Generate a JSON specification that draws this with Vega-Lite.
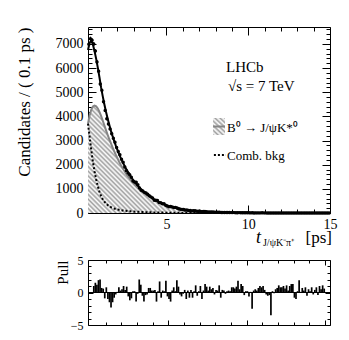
{
"$schema": "https://vega.github.io/schema/vega-lite/v6.json",
"autosize": {"type": "none"},
"padding": {"left": 88, "top": 27, "right": 261, "bottom": 313},
"background": "white",
"config": {
 "view": {"stroke": "black", "strokeWidth": 1},
 "axis": {"grid": false, "domain": false, "tickColor": "black", "tickWidth": 1, "labelColor": "black", "labelFont": "Liberation Serif", "titleFont": "Liberation Serif", "titleColor": "black", "titleFontWeight": "normal", "labelFlush": false, "labelOverlap": false, "labelBound": false, "format": "d"},
 "text": {"font": "Liberation Serif", "color": "black"}
},
"datasets": {
 "bins": [
{"t":0.25,"n":6983,"e":84,"p":1.0},{"t":0.35,"n":7216,"e":85,"p":1.5},{"t":0.45,"n":7156,"e":84,"p":1.2},{"t":0.55,"n":6997,"e":83,"p":1.9},{"t":0.65,"n":6702,"e":82,"p":2.0},{"t":0.75,"n":6255,"e":79,"p":0.7},{"t":0.85,"n":5866,"e":77,"p":0.6},{"t":0.95,"n":5344,"e":73,"p":-0.9},{"t":1.05,"n":5077,"e":71,"p":0.8},{"t":1.15,"n":4602,"e":68,"p":-1.0},
{"t":1.25,"n":4246,"e":65,"p":-1.5},{"t":1.35,"n":3904,"e":62,"p":-2.3},{"t":1.45,"n":3688,"e":61,"p":-1.5},{"t":1.55,"n":3482,"e":59,"p":-0.8},{"t":1.65,"n":3283,"e":57,"p":-0.3},{"t":1.75,"n":3094,"e":56,"p":0.1},{"t":1.85,"n":2931,"e":54,"p":0.8},{"t":1.95,"n":2716,"e":52,"p":0.3},{"t":2.05,"n":2550,"e":50,"p":0.5},{"t":2.15,"n":2409,"e":49,"p":1.0},
{"t":2.25,"n":2224,"e":47,"p":0.4},{"t":2.35,"n":2103,"e":46,"p":0.9},{"t":2.45,"n":1904,"e":44,"p":-0.6},{"t":2.55,"n":1754,"e":42,"p":-1.2},{"t":2.65,"n":1651,"e":41,"p":-0.9},{"t":2.75,"n":1586,"e":40,"p":0.2},{"t":2.85,"n":1483,"e":39,"p":0.2},{"t":2.95,"n":1327,"e":36,"p":-1.4},{"t":3.05,"n":1283,"e":36,"p":-0.2},{"t":3.15,"n":1275,"e":36,"p":2.0},
{"t":3.25,"n":1168,"e":34,"p":1.2},{"t":3.35,"n":1039,"e":32,"p":-0.5},{"t":3.45,"n":943,"e":31,"p":-1.4},{"t":3.55,"n":911,"e":30,"p":-0.4},{"t":3.65,"n":854,"e":29,"p":-0.3},{"t":3.75,"n":827,"e":29,"p":0.7},{"t":3.85,"n":774,"e":28,"p":0.7},{"t":3.95,"n":713,"e":27,"p":0.3},{"t":4.05,"n":668,"e":26,"p":0.3},{"t":4.15,"n":622,"e":25,"p":0.4},
{"t":4.25,"n":531,"e":23,"p":-1.4},{"t":4.35,"n":527,"e":23,"p":0.2},{"t":4.45,"n":520,"e":23,"p":1.7},{"t":4.55,"n":430,"e":21,"p":-0.8},{"t":4.65,"n":420,"e":20,"p":0.3},{"t":4.75,"n":387,"e":20,"p":0.2},{"t":4.85,"n":388,"e":20,"p":1.8},{"t":4.95,"n":317,"e":18,"p":-0.6},{"t":5.05,"n":287,"e":17,"p":-1.0},{"t":5.15,"n":258,"e":16,"p":-1.4},
{"t":5.25,"n":265,"e":16,"p":0.3},{"t":5.35,"n":253,"e":16,"p":0.8},{"t":5.45,"n":226,"e":15,"p":0.2},{"t":5.55,"n":233,"e":15,"p":1.9},{"t":5.65,"n":203,"e":14,"p":0.9},{"t":5.75,"n":173,"e":13,"p":-0.3},{"t":5.85,"n":156,"e":12,"p":-0.6},{"t":5.95,"n":150,"e":12,"p":-0.2},{"t":6.05,"n":145,"e":12,"p":0.4},{"t":6.15,"n":119,"e":11,"p":-1.0},
{"t":6.25,"n":123,"e":11,"p":0.3},{"t":6.35,"n":103,"e":10,"p":-0.8},{"t":6.45,"n":107,"e":10,"p":0.4},{"t":6.55,"n":87,"e":9,"p":-0.8},{"t":6.65,"n":90,"e":9,"p":0.2},{"t":6.75,"n":92,"e":10,"p":1.1},{"t":6.85,"n":72,"e":8,"p":-0.5},{"t":6.95,"n":72,"e":8,"p":0.2},{"t":7.05,"n":73,"e":9,"p":1.0},{"t":7.15,"n":52,"e":7,"p":-1.0},
{"t":7.25,"n":58,"e":8,"p":0.3},{"t":7.35,"n":61,"e":8,"p":1.3},{"t":7.45,"n":54,"e":7,"p":0.9},{"t":7.55,"n":46,"e":7,"p":0.3},{"t":7.65,"n":47,"e":7,"p":0.9},{"t":7.75,"n":41,"e":6,"p":0.5},{"t":7.85,"n":39,"e":6,"p":0.7},{"t":7.95,"n":31,"e":6,"p":-0.3},{"t":8.05,"n":32,"e":6,"p":0.4},{"t":8.15,"n":30,"e":5,"p":0.3},
{"t":8.25,"n":32,"e":6,"p":1.1},{"t":8.35,"n":20,"e":4,"p":-0.8},{"t":8.45,"n":24,"e":5,"p":0.4},{"t":8.55,"n":22,"e":5,"p":0.3},{"t":8.65,"n":18,"e":4,"p":-0.2},{"t":8.75,"n":19,"e":4,"p":0.2},{"t":8.85,"n":17,"e":4,"p":0.3},{"t":8.95,"n":16,"e":4,"p":0.2},{"t":9.05,"n":17,"e":4,"p":0.8},{"t":9.15,"n":16,"e":4,"p":0.8},
{"t":9.25,"n":14,"e":4,"p":0.6},{"t":9.35,"n":14,"e":4,"p":0.9},{"t":9.45,"n":16,"e":4,"p":1.8},{"t":9.55,"n":11,"e":3,"p":0.5},{"t":9.65,"n":13,"e":4,"p":1.3},{"t":9.75,"n":11,"e":3,"p":1.0},{"t":9.85,"n":6,"e":2,"p":-0.4},{"t":9.95,"n":8,"e":3,"p":0.2},{"t":10.05,"n":7,"e":3,"p":0.2},{"t":10.15,"n":5,"e":2,"p":-0.6},
{"t":10.25,"n":6,"e":2,"p":0.1},{"t":10.35,"n":0,"e":0,"p":-2.5},{"t":10.45,"n":5,"e":2,"p":0.3},{"t":10.55,"n":5,"e":2,"p":0.5},{"t":10.65,"n":5,"e":2,"p":0.3},{"t":10.75,"n":5,"e":2,"p":0.7},{"t":10.85,"n":6,"e":2,"p":1.0},{"t":10.95,"n":5,"e":2,"p":0.8},{"t":11.05,"n":5,"e":2,"p":1.0},{"t":11.15,"n":4,"e":2,"p":0.4},
{"t":11.25,"n":2,"e":1,"p":-0.3},{"t":11.35,"n":2,"e":1,"p":-0.5},{"t":11.45,"n":2,"e":1,"p":-0.4},{"t":11.55,"n":0,"e":0,"p":-3.5},{"t":11.65,"n":2,"e":1,"p":0.2},{"t":11.75,"n":2,"e":1,"p":-0.1},{"t":11.85,"n":2,"e":1,"p":0.5},{"t":11.95,"n":3,"e":2,"p":0.7},{"t":12.05,"n":3,"e":2,"p":1.1},{"t":12.15,"n":2,"e":1,"p":0.8},
{"t":12.25,"n":2,"e":1,"p":0.8},{"t":12.35,"n":2,"e":1,"p":1.0},{"t":12.45,"n":1,"e":1,"p":0.6},{"t":12.55,"n":2,"e":1,"p":1.1},{"t":12.65,"n":1,"e":1,"p":0.3},{"t":12.75,"n":2,"e":1,"p":1.0},{"t":12.85,"n":2,"e":1,"p":1.3},{"t":12.95,"n":2,"e":1,"p":1.3},{"t":13.05,"n":0,"e":0,"p":-0.8},{"t":13.15,"n":0,"e":0,"p":-1.0},
{"t":13.25,"n":1,"e":1,"p":0.2},{"t":13.35,"n":2,"e":1,"p":1.9},{"t":13.45,"n":1,"e":1,"p":0.1},{"t":13.55,"n":1,"e":1,"p":0.7},{"t":13.65,"n":1,"e":1,"p":0.3},{"t":13.75,"n":1,"e":1,"p":0.8},{"t":13.85,"n":0,"e":0,"p":-0.5},{"t":13.95,"n":1,"e":1,"p":0.5},{"t":14.05,"n":0,"e":0,"p":0.2},{"t":14.15,"n":1,"e":1,"p":0.8},
{"t":14.25,"n":0,"e":0,"p":-0.3},{"t":14.35,"n":1,"e":1,"p":0.4},{"t":14.45,"n":1,"e":1,"p":0.8},{"t":14.55,"n":0,"e":0,"p":-0.4},{"t":14.65,"n":1,"e":1,"p":1.0},{"t":14.75,"n":1,"e":1,"p":0.5},{"t":14.85,"n":1,"e":1,"p":1.1},{"t":14.95,"n":1,"e":1,"p":0.6}
 ],
 "curves": [
{"t":0.2,"T":6750,"S":3700,"B":3700},{"t":0.3,"T":7050,"S":4050,"B":3150},{"t":0.4,"T":7130,"S":4280,"B":2600},{"t":0.5,"T":6980,"S":4410,"B":2120},{"t":0.6,"T":6700,"S":4450,"B":1720},{"t":0.7,"T":6380,"S":4420,"B":1390},{"t":0.8,"T":6020,"S":4330,"B":1110},{"t":0.9,"T":5620,"S":4190,"B":880},{"t":1.0,"T":5200,"S":4020,"B":700},{"t":1.1,"T":4840,"S":3830,"B":570},
{"t":1.2,"T":4500,"S":3630,"B":470},{"t":1.3,"T":4190,"S":3430,"B":390},{"t":1.4,"T":3910,"S":3240,"B":330},{"t":1.5,"T":3650,"S":3060,"B":280},{"t":1.6,"T":3410,"S":2890,"B":240},{"t":1.7,"T":3190,"S":2720,"B":210},{"t":1.8,"T":2985,"S":2560,"B":185},{"t":1.9,"T":2790,"S":2410,"B":165},{"t":2.0,"T":2610,"S":2270,"B":145},{"t":2.1,"T":2440,"S":2130,"B":131},
{"t":2.2,"T":2280,"S":2000,"B":118},{"t":2.3,"T":2130,"S":1880,"B":108},{"t":2.4,"T":1995,"S":1770,"B":98},{"t":2.5,"T":1865,"S":1660,"B":90},{"t":2.6,"T":1745,"S":1560,"B":82},{"t":2.7,"T":1630,"S":1470,"B":76},{"t":2.8,"T":1525,"S":1380,"B":70},{"t":2.9,"T":1425,"S":1300,"B":65},{"t":3.0,"T":1333,"S":1220,"B":60},{"t":3.2,"T":1166,"S":1080,"B":52},
{"t":3.4,"T":1020,"S":955,"B":45},{"t":3.6,"T":892,"S":840,"B":38},{"t":3.8,"T":780,"S":740,"B":33},{"t":4.0,"T":682,"S":652,"B":28},{"t":4.2,"T":585,"S":570,"B":25},{"t":4.4,"T":501,"S":490,"B":22},{"t":4.6,"T":430,"S":422,"B":19},{"t":4.8,"T":368,"S":362,"B":16},{"t":5.0,"T":316,"S":310,"B":14},{"t":5.5,"T":215,"S":211,"B":10},
{"t":6.0,"T":146,"S":143,"B":7},{"t":6.5,"T":99,"S":97,"B":5},{"t":7.0,"T":68,"S":66,"B":3.5},{"t":7.5,"T":46,"S":45,"B":2.5},{"t":8.0,"T":31,"S":30,"B":1.8},{"t":8.5,"T":21,"S":20.5,"B":1.2},{"t":9.0,"T":14.5,"S":14,"B":0.8},{"t":9.5,"T":10,"S":9.7,"B":0.6},{"t":10,"T":6.7,"S":6.5,"B":0.5},{"t":11,"T":3.1,"S":3,"B":0.3},
{"t":12,"T":1.4,"S":1.4,"B":0.1},{"t":13,"T":0.7,"S":0.65,"B":0.05},{"t":14,"T":0.3,"S":0.3,"B":0},{"t":15,"T":0.15,"S":0.14,"B":0}
 ],
 "ann": [
  {"g":"big","x":8.64,"y":5837,"s":"LHCb"},
  {"g":"big","x":8.76,"y":5051,"s":"√s = 7 TeV"},
  {"g":"leg","x":8.7,"y":3353,"s":"B⁰ → J/ψK*⁰"},
  {"g":"leg","x":8.7,"y":2194,"s":"Comb. bkg"},
  {"g":"t","x":10.475,"y":-1240,"s":"t"},
  {"g":"sub","x":10.9,"y":-1360,"s":"J/ψK⁻π⁺"},
  {"g":"ps","x":15.12,"y":-1240,"s":"[ps]"},
  {"g":"box","x":7.85,"x2":8.58,"y":3229,"y2":3933,"ym":3581},
  {"g":"dot","x":7.9,"x2":8.64,"y":2401}
 ]
},
"spacing": 47,
"bounds": "flush",
"vconcat": [
 {
  "width": 242, "height": 186,
  "resolve": {"axis": {"x": "independent", "y": "independent"}},
  "layer": [
   {
    "data": {"name": "curves"},
    "mark": {"type": "area", "stroke": null, "fill": {"gradient": "linear", "x1": 0, "y1": 1, "x2": 1.206, "y2": 0.464, "stops": [
{"offset":0,"color":"#a0a0a0"},{"offset":0.0067,"color":"#fff"},{"offset":0.0133,"color":"#a0a0a0"},
{"offset":0.02,"color":"#fff"},{"offset":0.0267,"color":"#a0a0a0"},{"offset":0.0333,"color":"#fff"},
{"offset":0.04,"color":"#a0a0a0"},{"offset":0.0467,"color":"#fff"},{"offset":0.0533,"color":"#a0a0a0"},
{"offset":0.06,"color":"#fff"},{"offset":0.0667,"color":"#a0a0a0"},{"offset":0.0733,"color":"#fff"},
{"offset":0.08,"color":"#a0a0a0"},{"offset":0.0867,"color":"#fff"},{"offset":0.0933,"color":"#a0a0a0"},
{"offset":0.1,"color":"#fff"},{"offset":0.1067,"color":"#a0a0a0"},{"offset":0.1133,"color":"#fff"},
{"offset":0.12,"color":"#a0a0a0"},{"offset":0.1267,"color":"#fff"},{"offset":0.1333,"color":"#a0a0a0"},
{"offset":0.14,"color":"#fff"},{"offset":0.1467,"color":"#a0a0a0"},{"offset":0.1533,"color":"#fff"},
{"offset":0.16,"color":"#a0a0a0"},{"offset":0.1667,"color":"#fff"},{"offset":0.1733,"color":"#a0a0a0"},
{"offset":0.18,"color":"#fff"},{"offset":0.1867,"color":"#a0a0a0"},{"offset":0.1933,"color":"#fff"},
{"offset":0.2,"color":"#a0a0a0"},{"offset":0.2067,"color":"#fff"},{"offset":0.2133,"color":"#a0a0a0"},
{"offset":0.22,"color":"#fff"},{"offset":0.2267,"color":"#a0a0a0"},{"offset":0.2333,"color":"#fff"},
{"offset":0.24,"color":"#a0a0a0"},{"offset":0.2467,"color":"#fff"},{"offset":0.2533,"color":"#a0a0a0"},
{"offset":0.26,"color":"#fff"},{"offset":0.2667,"color":"#a0a0a0"},{"offset":0.2733,"color":"#fff"},
{"offset":0.28,"color":"#a0a0a0"},{"offset":0.2867,"color":"#fff"},{"offset":0.2933,"color":"#a0a0a0"},
{"offset":0.3,"color":"#fff"},{"offset":0.3067,"color":"#a0a0a0"},{"offset":0.3133,"color":"#fff"},
{"offset":0.32,"color":"#a0a0a0"},{"offset":0.3267,"color":"#fff"},{"offset":0.3333,"color":"#a0a0a0"},
{"offset":0.34,"color":"#fff"},{"offset":0.3467,"color":"#a0a0a0"},{"offset":0.3533,"color":"#fff"},
{"offset":0.36,"color":"#a0a0a0"},{"offset":0.3667,"color":"#fff"},{"offset":0.3733,"color":"#a0a0a0"},
{"offset":0.38,"color":"#fff"},{"offset":0.3867,"color":"#a0a0a0"},{"offset":0.3933,"color":"#fff"},
{"offset":0.4,"color":"#a0a0a0"},{"offset":0.4067,"color":"#fff"},{"offset":0.4133,"color":"#a0a0a0"},
{"offset":0.42,"color":"#fff"},{"offset":0.4267,"color":"#a0a0a0"},{"offset":0.4333,"color":"#fff"},
{"offset":0.44,"color":"#a0a0a0"},{"offset":0.4467,"color":"#fff"},{"offset":0.4533,"color":"#a0a0a0"},
{"offset":0.46,"color":"#fff"},{"offset":0.4667,"color":"#a0a0a0"},{"offset":0.4733,"color":"#fff"},
{"offset":0.48,"color":"#a0a0a0"},{"offset":0.4867,"color":"#fff"},{"offset":0.4933,"color":"#a0a0a0"},
{"offset":0.5,"color":"#fff"},{"offset":0.5067,"color":"#a0a0a0"},{"offset":0.5133,"color":"#fff"},
{"offset":0.52,"color":"#a0a0a0"},{"offset":0.5267,"color":"#fff"},{"offset":0.5333,"color":"#a0a0a0"},
{"offset":0.54,"color":"#fff"},{"offset":0.5467,"color":"#a0a0a0"},{"offset":0.5533,"color":"#fff"},
{"offset":0.56,"color":"#a0a0a0"},{"offset":0.5667,"color":"#fff"},{"offset":0.5733,"color":"#a0a0a0"},
{"offset":0.58,"color":"#fff"},{"offset":0.5867,"color":"#a0a0a0"},{"offset":0.5933,"color":"#fff"},
{"offset":0.6,"color":"#a0a0a0"},{"offset":0.6067,"color":"#fff"},{"offset":0.6133,"color":"#a0a0a0"},
{"offset":0.62,"color":"#fff"},{"offset":0.6267,"color":"#a0a0a0"},{"offset":0.6333,"color":"#fff"},
{"offset":0.64,"color":"#a0a0a0"},{"offset":0.6467,"color":"#fff"},{"offset":0.6533,"color":"#a0a0a0"},
{"offset":0.66,"color":"#fff"},{"offset":0.6667,"color":"#a0a0a0"},{"offset":0.6733,"color":"#fff"},
{"offset":0.68,"color":"#a0a0a0"},{"offset":0.6867,"color":"#fff"},{"offset":0.6933,"color":"#a0a0a0"},
{"offset":0.7,"color":"#fff"},{"offset":0.7067,"color":"#a0a0a0"},{"offset":0.7133,"color":"#fff"},
{"offset":0.72,"color":"#a0a0a0"},{"offset":0.7267,"color":"#fff"},{"offset":0.7333,"color":"#a0a0a0"},
{"offset":0.74,"color":"#fff"},{"offset":0.7467,"color":"#a0a0a0"},{"offset":0.7533,"color":"#fff"},
{"offset":0.76,"color":"#a0a0a0"},{"offset":0.7667,"color":"#fff"},{"offset":0.7733,"color":"#a0a0a0"},
{"offset":0.78,"color":"#fff"},{"offset":0.7867,"color":"#a0a0a0"},{"offset":0.7933,"color":"#fff"},
{"offset":0.8,"color":"#a0a0a0"},{"offset":0.8067,"color":"#fff"},{"offset":0.8133,"color":"#a0a0a0"},
{"offset":0.82,"color":"#fff"},{"offset":0.8267,"color":"#a0a0a0"},{"offset":0.8333,"color":"#fff"},
{"offset":0.84,"color":"#a0a0a0"},{"offset":0.8467,"color":"#fff"},{"offset":0.8533,"color":"#a0a0a0"},
{"offset":0.86,"color":"#fff"},{"offset":0.8667,"color":"#a0a0a0"},{"offset":0.8733,"color":"#fff"},
{"offset":0.88,"color":"#a0a0a0"},{"offset":0.8867,"color":"#fff"},{"offset":0.8933,"color":"#a0a0a0"},
{"offset":0.9,"color":"#fff"},{"offset":0.9067,"color":"#a0a0a0"},{"offset":0.9133,"color":"#fff"},
{"offset":0.92,"color":"#a0a0a0"},{"offset":0.9267,"color":"#fff"},{"offset":0.9333,"color":"#a0a0a0"},
{"offset":0.94,"color":"#fff"},{"offset":0.9467,"color":"#a0a0a0"},{"offset":0.9533,"color":"#fff"},
{"offset":0.96,"color":"#a0a0a0"},{"offset":0.9667,"color":"#fff"},{"offset":0.9733,"color":"#a0a0a0"},
{"offset":0.98,"color":"#fff"},{"offset":0.9867,"color":"#a0a0a0"},{"offset":0.9933,"color":"#fff"},
{"offset":1,"color":"#a0a0a0"}]}},
    "encoding": {
     "x": {"field": "t", "type": "quantitative", "scale": {"domain": [0.2, 15], "nice": false, "zero": false},
           "axis": {"orient": "bottom", "values": [5, 10, 15], "tickSize": -8, "labelPadding": 12, "labelFontSize": 14, "title": null}},
     "y": {"field": "S", "type": "quantitative", "scale": {"domain": [0, 7700], "nice": false, "zero": false},
           "axis": {"orient": "left", "values": [0, 1000, 2000, 3000, 4000, 5000, 6000, 7000], "tickSize": -8, "labelPadding": 13, "labelFontSize": 14, "title": "Candidates / ( 0.1 ps )", "titleFontSize": 17, "titleAnchor": "end", "titlePadding": 22}}
    }
   },
   {
    "data": {"name": "curves"},
    "mark": {"type": "line", "color": "#858585", "strokeWidth": 2},
    "encoding": {
     "x": {"field": "t", "type": "quantitative", "scale": {"domain": [0.2, 15], "nice": false, "zero": false},
           "axis": {"orient": "bottom", "values": [1, 2, 3, 4, 6, 7, 8, 9, 11, 12, 13, 14], "tickSize": -4, "labels": false, "title": null}},
     "y": {"field": "S", "type": "quantitative", "scale": {"domain": [0, 7700], "nice": false, "zero": false},
           "axis": {"orient": "left", "values": [200, 400, 600, 800, 1200, 1400, 1600, 1800, 2200, 2400, 2600, 2800, 3200, 3400, 3600, 3800, 4200, 4400, 4600, 4800, 5200, 5400, 5600, 5800, 6200, 6400, 6600, 6800, 7200, 7400, 7600], "tickSize": -4, "labels": false, "title": null}}
    }
   },
   {
    "data": {"name": "curves"},
    "mark": {"type": "line", "color": "black", "strokeWidth": 2, "strokeDash": [2, 2]},
    "encoding": {
     "x": {"field": "t", "type": "quantitative", "scale": {"domain": [0.2, 15], "nice": false, "zero": false},
           "axis": {"orient": "top", "values": [5, 10, 15], "tickSize": -8, "labels": false, "title": null}},
     "y": {"field": "B", "type": "quantitative", "scale": {"domain": [0, 7700], "nice": false, "zero": false},
           "axis": {"orient": "right", "values": [0, 1000, 2000, 3000, 4000, 5000, 6000, 7000], "tickSize": -8, "labels": false, "title": null}}
    }
   },
   {
    "data": {"name": "curves"},
    "mark": {"type": "line", "color": "black", "strokeWidth": 2},
    "encoding": {
     "x": {"field": "t", "type": "quantitative", "scale": {"domain": [0.2, 15], "nice": false, "zero": false},
           "axis": {"orient": "top", "values": [1, 2, 3, 4, 6, 7, 8, 9, 11, 12, 13, 14], "tickSize": -4, "labels": false, "title": null}},
     "y": {"field": "T", "type": "quantitative", "scale": {"domain": [0, 7700], "nice": false, "zero": false},
           "axis": {"orient": "right", "values": [200, 400, 600, 800, 1200, 1400, 1600, 1800, 2200, 2400, 2600, 2800, 3200, 3400, 3600, 3800, 4200, 4400, 4600, 4800, 5200, 5400, 5600, 5800, 6200, 6400, 6600, 6800, 7200, 7400, 7600], "tickSize": -4, "labels": false, "title": null}}
    }
   },
   {
    "data": {"name": "bins"},
    "mark": {"type": "errorbar", "color": "black", "ticks": false},
    "encoding": {
     "x": {"field": "t", "type": "quantitative", "scale": {"domain": [0.2, 15], "nice": false, "zero": false}, "axis": null},
     "y": {"field": "n", "type": "quantitative", "scale": {"domain": [0, 7700], "nice": false, "zero": false}, "axis": null},
     "yError": {"field": "e"}
    }
   },
   {
    "data": {"name": "bins"},
    "mark": {"type": "point", "filled": true, "shape": "circle", "size": 12, "color": "black", "opacity": 1},
    "encoding": {
     "x": {"field": "t", "type": "quantitative", "scale": {"domain": [0.2, 15], "nice": false, "zero": false}, "axis": null},
     "y": {"field": "n", "type": "quantitative", "scale": {"domain": [0, 7700], "nice": false, "zero": false}, "axis": null}
    }
   },
   {
    "data": {"name": "ann"},
    "transform": [{"filter": "datum.g === 'box'"}],
    "mark": {"type": "rect", "stroke": null, "fill": {"gradient": "linear", "x1": 0, "y1": 1, "x2": 0.757, "y2": -0.159, "stops": [
{"offset":0,"color":"#a0a0a0"},{"offset":0.0833,"color":"#fff"},{"offset":0.1667,"color":"#a0a0a0"},{"offset":0.25,"color":"#fff"},{"offset":0.3333,"color":"#a0a0a0"},{"offset":0.4167,"color":"#fff"},{"offset":0.5,"color":"#a0a0a0"},{"offset":0.5833,"color":"#fff"},{"offset":0.6667,"color":"#a0a0a0"},{"offset":0.75,"color":"#fff"},{"offset":0.8333,"color":"#a0a0a0"},{"offset":0.9167,"color":"#fff"},{"offset":1,"color":"#a0a0a0"}]}},
    "encoding": {
     "x": {"field": "x", "type": "quantitative", "scale": {"domain": [0.2, 15], "nice": false, "zero": false}, "axis": null},
     "x2": {"field": "x2"},
     "y": {"field": "y", "type": "quantitative", "scale": {"domain": [0, 7700], "nice": false, "zero": false}, "axis": null},
     "y2": {"field": "y2"}
    }
   },
   {
    "data": {"name": "ann"},
    "transform": [{"filter": "datum.g === 'box'"}],
    "mark": {"type": "rule", "color": "#858585", "strokeWidth": 2},
    "encoding": {
     "x": {"field": "x", "type": "quantitative", "scale": {"domain": [0.2, 15], "nice": false, "zero": false}, "axis": null},
     "x2": {"field": "x2"},
     "y": {"field": "ym", "type": "quantitative", "scale": {"domain": [0, 7700], "nice": false, "zero": false}, "axis": null}
    }
   },
   {
    "data": {"name": "ann"},
    "transform": [{"filter": "datum.g === 'dot'"}],
    "mark": {"type": "rule", "color": "black", "strokeWidth": 2, "strokeDash": [2, 2]},
    "encoding": {
     "x": {"field": "x", "type": "quantitative", "scale": {"domain": [0.2, 15], "nice": false, "zero": false}, "axis": null},
     "x2": {"field": "x2"},
     "y": {"field": "y", "type": "quantitative", "scale": {"domain": [0, 7700], "nice": false, "zero": false}, "axis": null}
    }
   },
   {
    "data": {"name": "ann"},
    "transform": [{"filter": "datum.g === 'big'"}],
    "mark": {"type": "text", "align": "left", "baseline": "alphabetic", "font": "Liberation Serif", "fontSize": 15, "color": "black"},
    "encoding": {
     "x": {"field": "x", "type": "quantitative", "scale": {"domain": [0.2, 15], "nice": false, "zero": false}, "axis": null},
     "y": {"field": "y", "type": "quantitative", "scale": {"domain": [0, 7700], "nice": false, "zero": false}, "axis": null},
     "text": {"field": "s"}
    }
   },
   {
    "data": {"name": "ann"},
    "transform": [{"filter": "datum.g === 'leg'"}],
    "mark": {"type": "text", "align": "left", "baseline": "alphabetic", "font": "Liberation Serif", "fontSize": 13, "color": "black"},
    "encoding": {
     "x": {"field": "x", "type": "quantitative", "scale": {"domain": [0.2, 15], "nice": false, "zero": false}, "axis": null},
     "y": {"field": "y", "type": "quantitative", "scale": {"domain": [0, 7700], "nice": false, "zero": false}, "axis": null},
     "text": {"field": "s"}
    }
   },
   {
    "data": {"name": "ann"},
    "transform": [{"filter": "datum.g === 't'"}],
    "mark": {"type": "text", "align": "left", "baseline": "alphabetic", "font": "Liberation Serif", "fontSize": 18, "fontStyle": "italic", "color": "black"},
    "encoding": {
     "x": {"field": "x", "type": "quantitative", "scale": {"domain": [0.2, 15], "nice": false, "zero": false}, "axis": null},
     "y": {"field": "y", "type": "quantitative", "scale": {"domain": [0, 7700], "nice": false, "zero": false}, "axis": null},
     "text": {"field": "s"}
    }
   },
   {
    "data": {"name": "ann"},
    "transform": [{"filter": "datum.g === 'sub'"}],
    "mark": {"type": "text", "align": "left", "baseline": "alphabetic", "font": "Liberation Serif", "fontSize": 10, "color": "black"},
    "encoding": {
     "x": {"field": "x", "type": "quantitative", "scale": {"domain": [0.2, 15], "nice": false, "zero": false}, "axis": null},
     "y": {"field": "y", "type": "quantitative", "scale": {"domain": [0, 7700], "nice": false, "zero": false}, "axis": null},
     "text": {"field": "s"}
    }
   },
   {
    "data": {"name": "ann"},
    "transform": [{"filter": "datum.g === 'ps'"}],
    "mark": {"type": "text", "align": "right", "baseline": "alphabetic", "font": "Liberation Serif", "fontSize": 17, "color": "black"},
    "encoding": {
     "x": {"field": "x", "type": "quantitative", "scale": {"domain": [0.2, 15], "nice": false, "zero": false}, "axis": null},
     "y": {"field": "y", "type": "quantitative", "scale": {"domain": [0, 7700], "nice": false, "zero": false}, "axis": null},
     "text": {"field": "s"}
    }
   }
  ]
 },
 {
  "width": 242, "height": 65,
  "data": {"name": "bins"},
  "resolve": {"axis": {"x": "independent", "y": "independent"}},
  "layer": [
   {
    "mark": {"type": "bar", "color": "black", "width": 1.7},
    "encoding": {
     "x": {"field": "t", "type": "quantitative", "scale": {"domain": [0.2, 15], "nice": false, "zero": false},
           "axis": {"orient": "bottom", "values": [5, 10, 15], "tickSize": -5, "labels": false, "title": null}},
     "y": {"field": "p", "type": "quantitative", "stack": null, "scale": {"domain": [-5, 5], "nice": false},
           "axis": {"orient": "left", "values": [-5, 0, 5], "tickSize": -5, "labelPadding": 10, "labelFontSize": 12, "title": "Pull", "titleFontSize": 15, "titleAnchor": "end", "titlePadding": 0}}
    }
   },
   {
    "mark": {"type": "point", "opacity": 0},
    "encoding": {
     "x": {"field": "t", "type": "quantitative", "scale": {"domain": [0.2, 15], "nice": false, "zero": false},
           "axis": {"orient": "bottom", "values": [1, 2, 3, 4, 6, 7, 8, 9, 11, 12, 13, 14], "tickSize": -3, "labels": false, "title": null}},
     "y": {"field": "p", "type": "quantitative", "scale": {"domain": [-5, 5], "nice": false},
           "axis": {"orient": "left", "values": [-4, -3, -2, -1, 1, 2, 3, 4], "tickSize": -3, "labels": false, "title": null}}
    }
   },
   {
    "mark": {"type": "point", "opacity": 0},
    "encoding": {
     "x": {"field": "t", "type": "quantitative", "scale": {"domain": [0.2, 15], "nice": false, "zero": false},
           "axis": {"orient": "top", "values": [5, 10, 15], "tickSize": -5, "labels": false, "title": null}},
     "y": {"field": "p", "type": "quantitative", "scale": {"domain": [-5, 5], "nice": false},
           "axis": {"orient": "right", "values": [-5, 0, 5], "tickSize": -5, "labels": false, "title": null}}
    }
   },
   {
    "mark": {"type": "point", "opacity": 0},
    "encoding": {
     "x": {"field": "t", "type": "quantitative", "scale": {"domain": [0.2, 15], "nice": false, "zero": false},
           "axis": {"orient": "top", "values": [1, 2, 3, 4, 6, 7, 8, 9, 11, 12, 13, 14], "tickSize": -3, "labels": false, "title": null}},
     "y": {"field": "p", "type": "quantitative", "scale": {"domain": [-5, 5], "nice": false},
           "axis": {"orient": "right", "values": [-4, -3, -2, -1, 1, 2, 3, 4], "tickSize": -3, "labels": false, "title": null}}
    }
   },
   {
    "mark": {"type": "rule", "color": "black", "strokeWidth": 1},
    "encoding": {"y": {"datum": 0, "type": "quantitative", "scale": {"domain": [-5, 5], "nice": false}, "axis": null}}
   }
  ]
 }
]
}
